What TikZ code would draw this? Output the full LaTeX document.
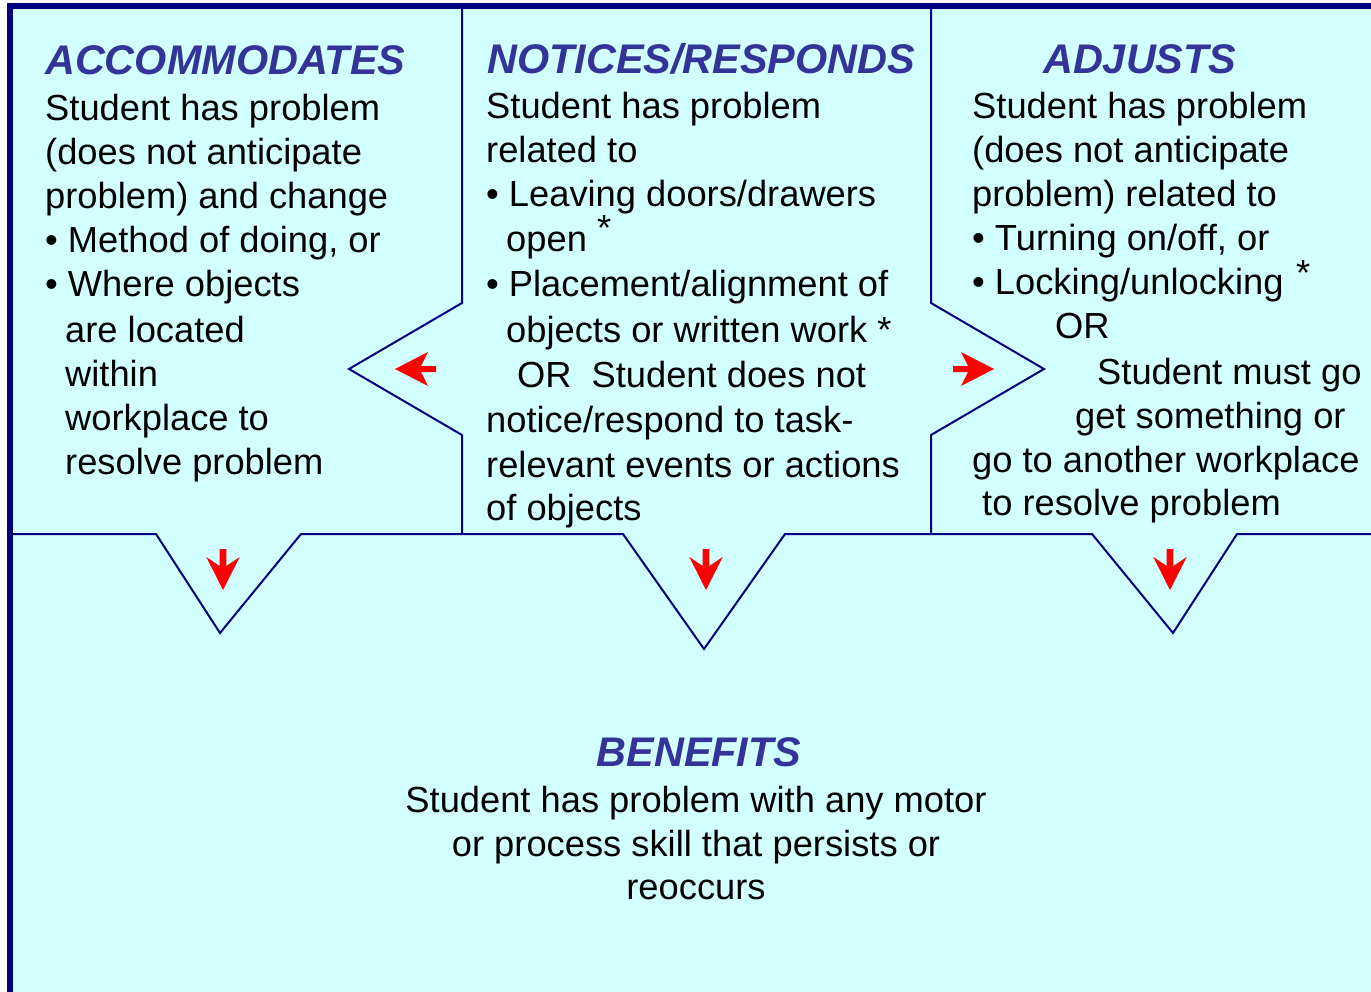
\documentclass[tikz,border=0pt]{standalone}
\usepackage{fontspec}
\setmainfont{Liberation Sans}
\definecolor{bgcyan}{RGB}{210,255,255}
\definecolor{navyline}{RGB}{0,0,128}
\definecolor{titleblue}{RGB}{51,51,153}
\begin{document}
\begin{tikzpicture}[x=1pt,y=-1pt,
  body/.style={anchor=base west, inner sep=0pt, font=\fontsize{36.3}{44}\selectfont, text=black},
  bodyc/.style={body, anchor=base},
  ttl/.style={anchor=base west, inner sep=0pt, font=\fontsize{41.4}{48}\selectfont\bfseries\itshape, text=titleblue},
  ttlc/.style={ttl, anchor=base},
  divider/.style={draw=navyline, line width=2pt, line join=miter},
  redarrow/.style={fill=red, draw=none}]
\useasboundingbox (0,0) rectangle (1371,992);
% background and outer frame
\fill[bgcyan] (10,6) rectangle (1371,992);
\draw[navyline, line width=6pt, line join=miter] (10,992) -- (10,6) -- (1371,6);
% dividers
\draw[divider] (462,6) -- (462,303) -- (349,369) -- (462,435) -- (462,534);
\draw[divider] (931,6) -- (931,303) -- (1044,369) -- (931,435) -- (931,534);
\draw[divider] (13,534) -- (156,534) -- (220,633) -- (301,534) -- (623,534) -- (704,649) -- (785,534)
  -- (1092,534) -- (1173,633) -- (1237,534) -- (1371,534);
% red arrows
\fill[redarrow] (395,369) -- (428,352) -- (421,366) -- (436,366) -- (436,372) -- (421,372) -- (428,386) -- cycle;
\fill[redarrow] (994,369) -- (961,352) -- (968,366) -- (953,366) -- (953,372) -- (968,372) -- (961,386) -- cycle;
\foreach \c in {223,706,1170}{
  \fill[redarrow] (\c,590) -- (\c-16.7,557) -- (\c-3.3,566) -- (\c-3.3,549) -- (\c+3.3,549) -- (\c+3.3,566) -- (\c+16.7,557) -- cycle;
}
% left panel
\node[ttl] (t1) at (45,75) {ACCOMMODATES};
\node[body] (a1) at (45,121) {Student has problem};
\node[body] (a2) at (45,165) {(does not anticipate};
\node[body] (a3) at (45,209) {problem) and change};
\node[body] (a4) at (45,253) {• Method of doing, or};
\node[body] (a5) at (45,297) {• Where objects};
\node[body] (a6) at (65,342) {are located};
\node[body] (a7) at (65,386) {within};
\node[body] (a8) at (65,430) {workplace to};
\node[body] (a9) at (65,474) {resolve problem};
% middle panel
\node[ttl] (t2) at (487,74) {NOTICES/RESPONDS};
\node[body] (b1) at (486,119) {Student has problem};
\node[body] (b2) at (486,163) {related to};
\node[body] (b3) at (486,207) {• Leaving doors/drawers};
\node[body] (b4s) at (597,241) {*};
\node[body] (b4) at (506,252) {open};
\node[body] (b5) at (486,297) {• Placement/alignment of};
\node[body] (b6) at (506,343) {objects or written work *};
\node[body] (b7) at (517,388) {OR\hspace{20pt}Student does not};
\node[body] (b8) at (486,432) {notice/respond to task-};
\node[body] (b9) at (486,477) {relevant events or actions};
\node[body] (b10) at (486,520) {of objects};
% right panel
\node[ttl] (t3) at (1043,74) {ADJUSTS};
\node[body] (c1) at (972,119) {Student has problem};
\node[body] (c2) at (972,163) {(does not anticipate};
\node[body] (c3) at (972,207) {problem) related to};
\node[body] (c4) at (972,251) {• Turning on/off, or};
\node[body] (c5) at (972,295) {• Locking/unlocking};
\node[body] (c5s) at (1296,286) {*};
\node[body] (c6) at (1055,339) {OR};
\node[body] (c7) at (1097,384) {Student must go};
\node[body] (c8) at (1075,428) {get something or};
\node[body] (c9) at (972,472) {go to another workplace};
\node[body] (c10) at (982,515) {to resolve problem};
% bottom
\node[ttlc] (t4) at (699,766) {BENEFITS};
\node[bodyc] (d1) at (696,812) {Student has problem with any motor};
\node[bodyc] (d2) at (696,856) {or process skill that persists or};
\node[bodyc] (d3) at (696,899) {reoccurs};
\end{tikzpicture}
\end{document}
